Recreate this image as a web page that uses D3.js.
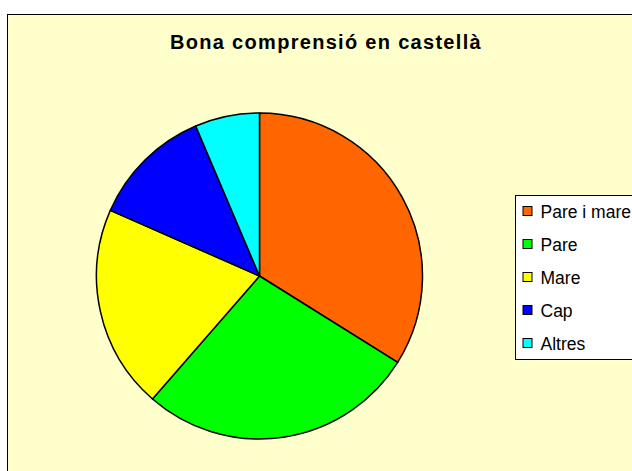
<!DOCTYPE html>
<html>
<head>
<meta charset="utf-8">
<script src="https://cdn.jsdelivr.net/npm/d3@7"></script>
<style>
  body { margin: 0; background: #fff; }
  svg { display: block; font-family: "Liberation Sans", Arial, sans-serif; }
</style>
</head>
<body>
<div id="chart"></div>
<script>
// data (percent of total)
var categories = ["Pare i mare", "Pare", "Mare", "Cap", "Altres"];
var values = [33.9, 27.5, 20.2, 12.0, 6.4];
var colors = ["#FF6600", "#00FF00", "#FFFF00", "#0000FF", "#00FFFF"];
var title = "Bona comprensió en castellà";

var width = 632, height = 471;

var svg = d3.select("#chart")
  .append("svg")
    .attr("width", width)
    .attr("height", height);

// chart area background (frame runs off the right/bottom edge)
svg.append("rect")
  .attr("x", 7.5)
  .attr("y", 14.5)
  .attr("width", width + 10)
  .attr("height", height + 10)
  .style("fill", "#FFFFCC")
  .style("stroke", "#000")
  .style("stroke-width", 1);

// title
svg.append("text")
  .attr("x", 326)
  .attr("y", 49)
  .attr("text-anchor", "middle")
  .style("font-size", "20px")
  .style("font-weight", "bold")
  .style("letter-spacing", "1.3px")
  .text(title);

// pie
var color = d3.scaleOrdinal().domain(categories).range(colors);
var radius = 163;
var pie = d3.pie().sort(null).value(function(d, i) { return values[i]; });
var arc = d3.arc().innerRadius(0).outerRadius(radius);

var g = svg.append("g")
  .attr("transform", "translate(259.5,276)");

g.selectAll("path")
  .data(pie(categories))
  .enter()
  .append("path")
    .attr("d", arc)
    .attr("fill", function(d) { return color(d.data); })
    .attr("stroke", "#000")
    .attr("stroke-width", 1.5)
    .attr("stroke-linejoin", "round");

// legend
var legend = svg.append("g").attr("transform", "translate(515.5,195.5)");

legend.append("rect")
  .attr("width", 140)
  .attr("height", 164)
  .style("fill", "#fff")
  .style("stroke", "#000")
  .style("stroke-width", 1);

var rowY = d3.scalePoint().domain(categories).range([16, 148]);

var rows = legend.selectAll("g.row")
  .data(categories)
  .enter()
  .append("g")
    .attr("class", "row")
    .attr("transform", function(d) { return "translate(0," + rowY(d) + ")"; });

rows.append("rect")
  .attr("x", 7.5)
  .attr("y", -5)
  .attr("width", 9)
  .attr("height", 9)
  .style("fill", function(d) { return color(d); })
  .style("stroke", "#000")
  .style("stroke-width", 1);

rows.append("text")
  .attr("x", 25)
  .attr("y", 6.5)
  .style("font-size", "17.5px")
  .text(function(d) { return d; });
</script>
</body>
</html>
